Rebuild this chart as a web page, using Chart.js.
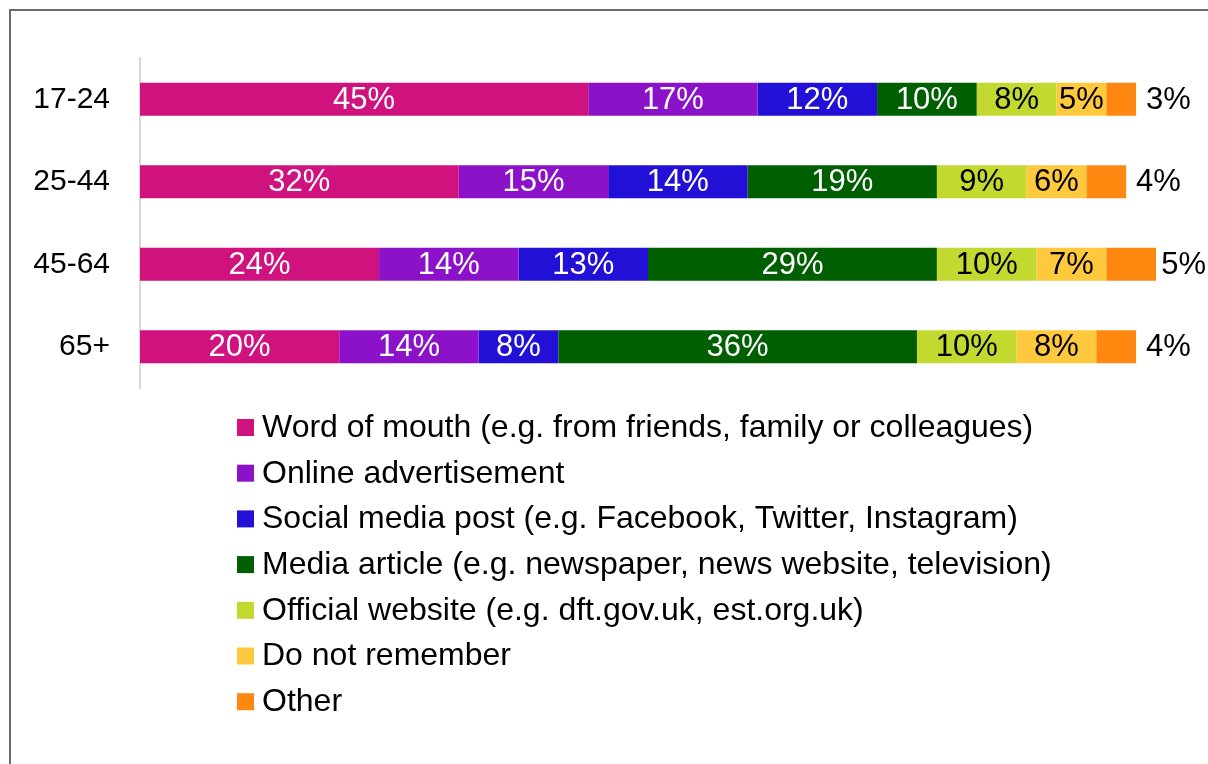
<!DOCTYPE html>
<html>
<head>
<meta charset="utf-8">
<title>How people heard about it, by age group</title>
<script src="https://cdn.jsdelivr.net/npm/chart.js@4.4.0/dist/chart.umd.min.js"></script>
<style>
    html, body { margin: 0; padding: 0; background: #fff; }
</style>
</head>
<body>
<canvas id="sourceChart" width="1208" height="764"></canvas>
<script>
// Age groups down the side
const ageGroups = ['17-24', '25-44', '45-64', '65+'];

// Where respondents first heard about it
const sourceNames = [
    'Word of mouth (e.g. from friends, family or colleagues)',
    'Online advertisement',
    'Social media post (e.g. Facebook, Twitter, Instagram)',
    'Media article (e.g. newspaper, news website, television)',
    'Official website (e.g. dft.gov.uk, est.org.uk)',
    'Do not remember',
    'Other'
];

// Percent of each age group, one array per source
const wordOfMouth  = [45, 32, 24, 20];
const onlineAdvert = [17, 15, 14, 14];
const socialPost   = [12, 14, 13, 8];
const mediaArticle = [10, 19, 29, 36];
const officialSite = [8, 9, 10, 10];
const notRemember  = [5, 6, 7, 8];
const otherSource  = [3, 4, 5, 4];

const sourceColours = ['#d0127f', '#8b12c9', '#2310d6', '#005f00', '#c3d92f', '#ffc93d', '#ff8810'];
const textColours   = ['#fff', '#fff', '#fff', '#fff', '#000', '#000', '#000'];

const FONT = "'Liberation Sans', Arial, sans-serif";

const allSeries = [wordOfMouth, onlineAdvert, socialPost, mediaArticle, officialSite, notRemember, otherSource];

// grey frame round the top and left of the figure
const framePlugin = {
    id: 'frame',
    beforeDraw(chart) {
        const ctx = chart.ctx;
        ctx.save();
        ctx.strokeStyle = '#6b6b6b';
        ctx.lineWidth = 2;
        ctx.beginPath();
        ctx.moveTo(10, chart.height + 5);
        ctx.lineTo(10, 10);
        ctx.lineTo(chart.width + 5, 10);
        ctx.stroke();
        ctx.restore();
    }
};

// percentages inside each segment, last one just past the end of the bar
const valueLabels = {
    id: 'valueLabels',
    afterDatasetsDraw(chart) {
        const ctx = chart.ctx;
        const last = chart.data.datasets.length - 1;
        ctx.save();
        ctx.font = '31px ' + FONT;
        ctx.textBaseline = 'middle';
        chart.data.datasets.forEach((ds, i) => {
            const meta = chart.getDatasetMeta(i);
            meta.data.forEach((bar, j) => {
                const text = ds.data[j] + '%';
                ctx.fillStyle = textColours[i];
                if (i === last) {
                    const w = ctx.measureText(text).width;
                    ctx.textAlign = 'left';
                    ctx.fillText(text, Math.min(bar.x + 10, chart.width - 2 - w), bar.y + 1);
                } else {
                    ctx.textAlign = 'center';
                    ctx.fillText(text, (bar.x + bar.base) / 2, bar.y + 1);
                }
            });
        });
        ctx.restore();
    }
};

// legend as a single column under the bars
const columnLegend = {
    id: 'columnLegend',
    afterDraw(chart) {
        const ctx = chart.ctx;
        ctx.save();
        ctx.font = '32px ' + FONT;
        ctx.textBaseline = 'middle';
        ctx.textAlign = 'left';
        chart.data.datasets.forEach((ds, i) => {
            const y = 427 + i * 45.7;
            ctx.fillStyle = ds.backgroundColor;
            ctx.fillRect(237, y - 8, 17, 17);
            ctx.fillStyle = '#000';
            ctx.fillText(ds.label, 262, y + 1);
        });
        ctx.restore();
    }
};

new Chart(document.getElementById('sourceChart'), {
    type: 'bar',
    data: {
        labels: ageGroups,
        datasets: allSeries.map((values, i) => ({
            label: sourceNames[i],
            data: values,
            backgroundColor: sourceColours[i],
            borderWidth: 0,
            barPercentage: 0.4,
            categoryPercentage: 1
        }))
    },
    options: {
        indexAxis: 'y',
        responsive: false,
        animation: false,
        devicePixelRatio: 1,
        layout: {
            padding: { top: 58, right: 52, bottom: 376, left: 0 }
        },
        scales: {
            x: {
                stacked: true,
                display: false,
                min: 0,
                max: 102
            },
            y: {
                stacked: true,
                afterFit(scale) { scale.width = 140; },
                grid: { display: false },
                border: { display: true, color: '#d9d9d9', width: 2 },
                ticks: {
                    color: '#000',
                    padding: 22,
                    font: { family: FONT, size: 30 }
                }
            }
        },
        plugins: {
            legend: { display: false },
            tooltip: { enabled: false }
        }
    },
    plugins: [framePlugin, valueLabels, columnLegend]
});
</script>
</body>
</html>
